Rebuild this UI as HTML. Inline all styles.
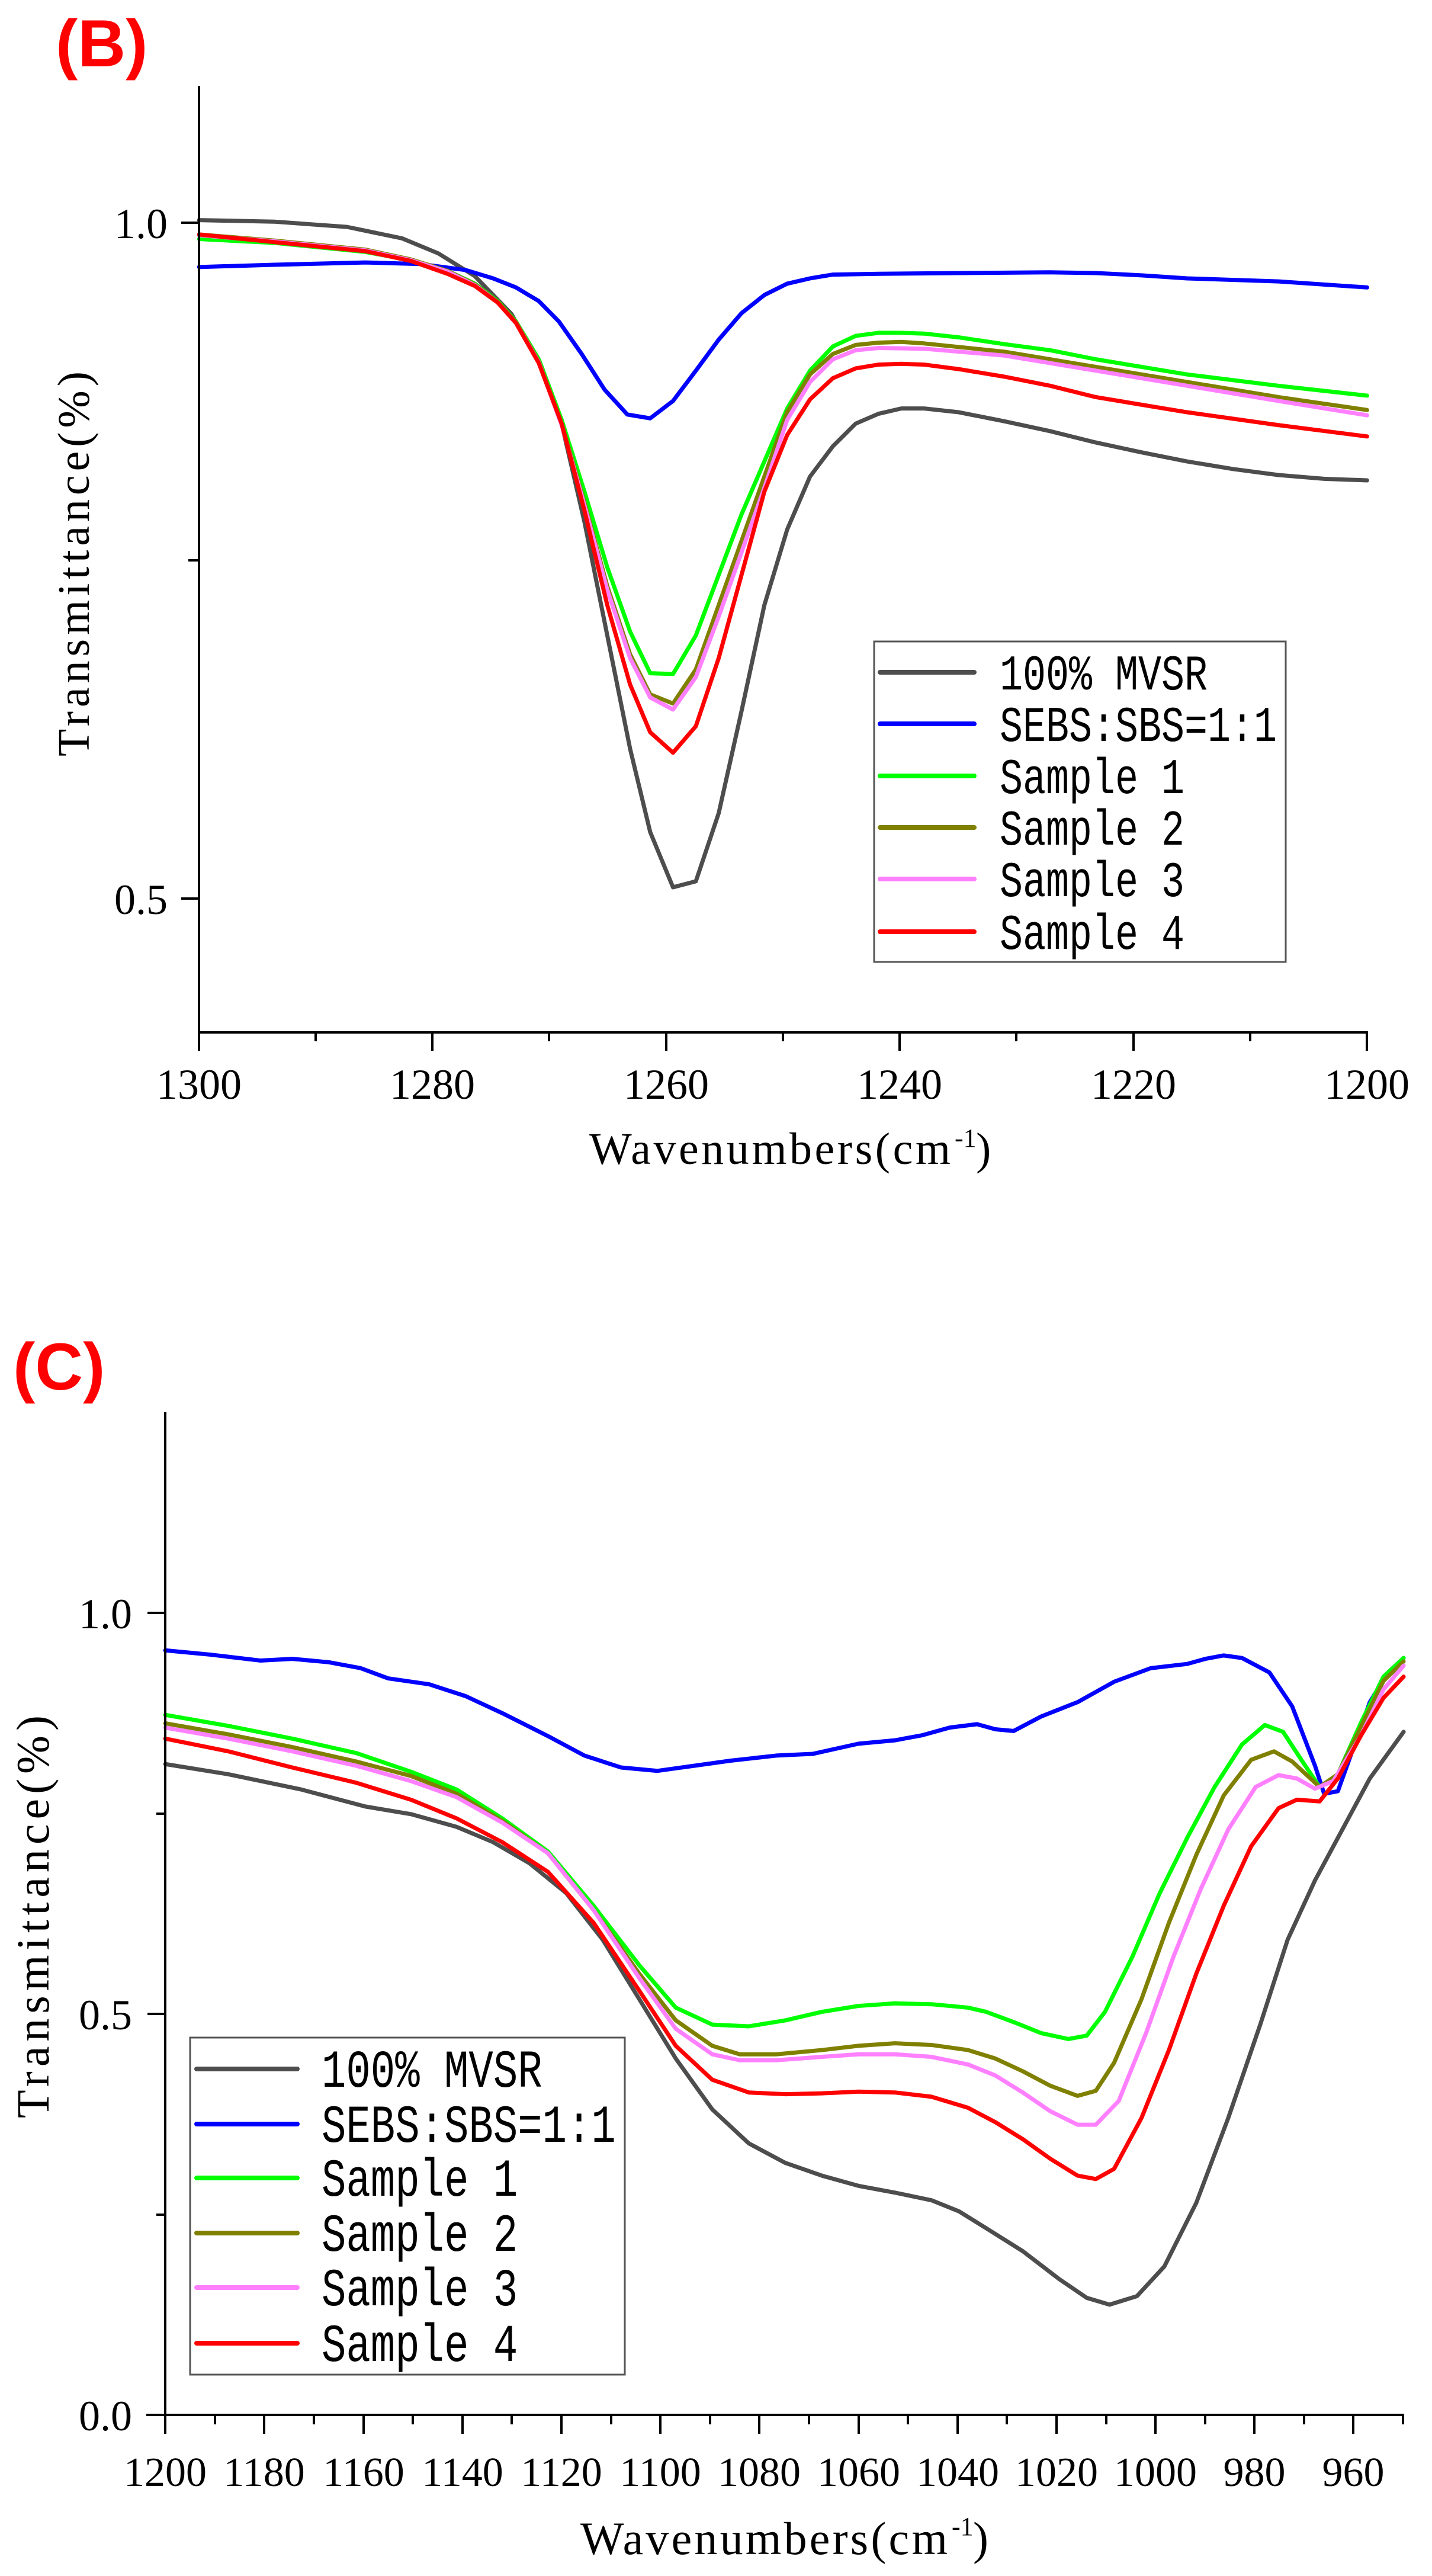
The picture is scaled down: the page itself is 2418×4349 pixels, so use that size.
<!DOCTYPE html>
<html><head><meta charset="utf-8"><style>
html,body{margin:0;padding:0;background:#fff;}
svg{display:block;}
text{font-family:"Liberation Serif",serif;fill:#000;}
.mono{font-family:"Liberation Mono",monospace;}
</style></head><body>
<svg width="2418" height="4349" viewBox="0 0 2418 4349" xmlns="http://www.w3.org/2000/svg" xml:space="preserve">
<rect width="2418" height="4349" fill="#fff"/>

<!-- ============ CHART B ============ -->
<text x="94" y="112" style="font-family:'Liberation Sans',sans-serif;font-weight:bold;font-size:112px;fill:#ff0000">(B)</text>

<g fill="none" stroke-linejoin="round" stroke-linecap="round">
<g transform="scale(1.542,1.2771)">
<polyline vector-effect="non-scaling-stroke" stroke="#4d4d4d" stroke-width="7" points="218,291 300,293 380,300 440,315 480,335 520,365 560,415 590,478 615,560 640,690 665,840 690,990 712,1100 737,1173 762,1165 787,1075 812,940 837,800 862,700 887,630 912,590 937,560 962,547 987,540 1012,540 1050,545 1100,557 1150,570 1200,585 1250,598 1300,610 1350,620 1400,628 1450,633 1497,635"/>
<polyline vector-effect="non-scaling-stroke" stroke="#0000ff" stroke-width="7" points="218,353 300,350 400,347 460,349 510,357 540,368 565,380 590,398 612,425 637,468 662,515 687,548 712,553 737,530 762,490 787,449 812,414 837,390 862,375 887,368 912,363 962,362 1050,361 1150,360 1200,361 1250,364 1300,368 1400,372 1497,380"/>
<polyline vector-effect="non-scaling-stroke" stroke="#00ff00" stroke-width="7" points="218,316 300,321 400,333 450,344 490,358 520,375 545,398 565,425 590,475 615,555 640,650 665,750 690,835 712,890 737,891 762,840 787,760 812,680 837,610 862,540 887,490 912,458 937,444 962,440 987,440 1012,441 1050,446 1100,455 1150,463 1200,475 1300,495 1400,510 1497,523"/>
<polyline vector-effect="non-scaling-stroke" stroke="#808000" stroke-width="7" points="218,310 300,318 400,330 450,343 490,358 520,376 545,399 565,426 590,478 615,560 640,665 665,775 690,865 712,918 737,930 762,885 787,800 812,715 837,630 862,545 887,495 912,468 937,456 962,453 987,452 1012,454 1100,465 1200,485 1300,505 1400,525 1497,542"/>
<polyline vector-effect="non-scaling-stroke" stroke="#ff80ff" stroke-width="7" points="218,311 300,319 400,331 450,344 490,359 520,377 545,400 565,427 590,479 615,562 640,668 665,780 690,870 712,922 737,938 762,895 787,815 812,730 837,645 862,555 887,505 912,475 937,463 962,460 1012,461 1100,470 1200,490 1300,510 1400,530 1497,549"/>
<polyline vector-effect="non-scaling-stroke" stroke="#ff0000" stroke-width="7" points="218,310 300,320 400,332 450,345 490,362 520,378 545,400 565,427 590,480 615,560 640,675 665,800 690,905 712,968 737,995 762,960 787,870 812,760 837,650 862,575 887,528 912,500 937,487 962,482 987,481 1012,482 1050,488 1100,498 1150,510 1200,525 1300,545 1400,562 1497,577"/>
</g>
</g>

<!-- axes B -->
<g stroke="#000" stroke-width="4" fill="none">
<line x1="336" y1="145" x2="336" y2="1745"/>
<line x1="334" y1="1743" x2="2310" y2="1743"/>
<line x1="306" y1="376" x2="336" y2="376"/>
<line x1="306" y1="1517" x2="336" y2="1517"/>
<line x1="318" y1="946" x2="336" y2="946"/>
<line x1="336" y1="1743" x2="336" y2="1774"/>
<line x1="533" y1="1743" x2="533" y2="1758"/>
<line x1="730" y1="1743" x2="730" y2="1774"/>
<line x1="927" y1="1743" x2="927" y2="1758"/>
<line x1="1125" y1="1743" x2="1125" y2="1774"/>
<line x1="1322" y1="1743" x2="1322" y2="1758"/>
<line x1="1519" y1="1743" x2="1519" y2="1774"/>
<line x1="1716" y1="1743" x2="1716" y2="1758"/>
<line x1="1914" y1="1743" x2="1914" y2="1774"/>
<line x1="2111" y1="1743" x2="2111" y2="1758"/>
<line x1="2308" y1="1743" x2="2308" y2="1774"/>
</g>
<g font-size="72" text-anchor="middle">
<text x="336" y="1855">1300</text>
<text x="730" y="1855">1280</text>
<text x="1125" y="1855">1260</text>
<text x="1519" y="1855">1240</text>
<text x="1914" y="1855">1220</text>
<text x="2308" y="1855">1200</text>
</g>
<g font-size="72" text-anchor="end">
<text x="283" y="402">1.0</text>
<text x="283" y="1543">0.5</text>
</g>
<text x="1300" y="1965" font-size="76" text-anchor="middle" textLength="610" lengthAdjust="spacing">Wavenumbers(cm</text>
<text x="1612" y="1936" font-size="44">-1</text>
<text x="1648" y="1965" font-size="76">)</text>
<text transform="translate(150,952) rotate(-90)" font-size="76" text-anchor="middle" textLength="650" lengthAdjust="spacing">Transmittance(%)</text>

<!-- legend B -->
<rect x="1476" y="1083" width="695" height="541" fill="#fff" stroke="#555" stroke-width="3"/>
<g stroke-width="8" stroke-linecap="round">
<line x1="1486" y1="1135" x2="1645" y2="1135" stroke="#4d4d4d"/>
<line x1="1486" y1="1222" x2="1645" y2="1222" stroke="#0000ff"/>
<line x1="1486" y1="1310" x2="1645" y2="1310" stroke="#00ff00"/>
<line x1="1486" y1="1397" x2="1645" y2="1397" stroke="#808000"/>
<line x1="1486" y1="1484" x2="1645" y2="1484" stroke="#ff80ff"/>
<line x1="1486" y1="1573" x2="1645" y2="1573" stroke="#ff0000"/>
</g>
<g class="mono" font-size="65" transform="scale(1,1.3)">
<text class="mono" x="1688" y="895.4">100% MVSR</text>
<text class="mono" x="1688" y="962.3">SEBS:SBS=1:1</text>
<text class="mono" x="1688" y="1030">Sample 1</text>
<text class="mono" x="1688" y="1096.9">Sample 2</text>
<text class="mono" x="1688" y="1163.8">Sample 3</text>
<text class="mono" x="1688" y="1232.3">Sample 4</text>
</g>

<!-- ============ CHART C ============ -->
<text x="22" y="2346" style="font-family:'Liberation Sans',sans-serif;font-weight:bold;font-size:112px;fill:#ff0000">(C)</text>

<g fill="none" stroke-linejoin="round" stroke-linecap="round">
<g transform="translate(0,2100) scale(1.542,1.4327)">
<polyline vector-effect="non-scaling-stroke" stroke="#4d4d4d" stroke-width="7" points="181,613 250,625 330,643 400,663 450,672 500,687 540,705 580,730 620,765 660,820 700,890 740,960 780,1020 820,1060 860,1083 900,1098 940,1110 980,1118 1020,1127 1050,1140 1080,1160 1120,1187 1160,1220 1190,1242 1215,1250 1245,1240 1275,1205 1310,1130 1345,1030 1380,920 1410,820 1440,750 1470,690 1500,630 1537,575"/>
<polyline vector-effect="non-scaling-stroke" stroke="#0000ff" stroke-width="7" points="181,479 230,484 285,491 320,489 360,493 395,500 425,512 470,519 510,533 550,553 600,580 640,603 680,617 720,621 760,615 800,609 850,603 890,601 940,589 980,585 1010,579 1040,570 1070,566 1090,572 1110,574 1140,557 1180,540 1220,516 1260,500 1300,495 1320,489 1340,485 1360,488 1390,505 1415,545 1440,615 1450,648 1465,645 1480,600 1500,540 1520,505 1537,488"/>
<polyline vector-effect="non-scaling-stroke" stroke="#00ff00" stroke-width="7" points="181,555 250,568 320,583 390,600 450,622 500,643 550,677 600,716 650,780 700,850 740,900 780,920 820,922 860,915 900,905 940,898 980,895 1020,896 1060,900 1080,905 1110,917 1140,930 1170,937 1190,933 1210,905 1240,840 1270,765 1300,700 1330,640 1360,590 1385,567 1405,575 1425,608 1445,640 1465,625 1490,565 1515,510 1537,488"/>
<polyline vector-effect="non-scaling-stroke" stroke="#808000" stroke-width="7" points="181,565 250,578 320,593 390,610 450,627 500,648 550,680 600,718 650,785 700,860 740,915 780,945 810,955 850,955 900,950 940,945 980,942 1020,944 1060,950 1090,960 1120,975 1150,992 1180,1004 1200,998 1220,965 1250,890 1280,800 1310,720 1340,650 1370,608 1395,598 1415,610 1435,630 1445,640 1465,625 1490,570 1515,515 1537,492"/>
<polyline vector-effect="non-scaling-stroke" stroke="#ff80ff" stroke-width="7" points="181,570 250,583 320,598 390,615 450,633 500,652 550,682 600,718 650,785 700,865 740,925 780,955 810,962 850,962 900,958 940,955 980,955 1020,958 1060,967 1090,980 1120,1000 1150,1022 1180,1038 1200,1038 1225,1010 1255,930 1285,840 1315,760 1345,690 1375,640 1400,626 1420,630 1440,642 1460,633 1490,580 1515,525 1537,497"/>
<polyline vector-effect="non-scaling-stroke" stroke="#ff0000" stroke-width="7" points="181,583 250,598 320,617 390,635 450,655 500,677 550,705 600,740 650,800 700,880 740,945 780,985 820,1000 860,1002 900,1001 940,999 980,1000 1020,1005 1060,1018 1090,1035 1120,1055 1150,1078 1180,1098 1200,1102 1220,1090 1250,1030 1280,950 1310,860 1340,780 1370,710 1400,665 1420,655 1445,657 1465,630 1490,580 1515,535 1537,510"/>
</g>
</g>

<!-- axes C -->
<g stroke="#000" stroke-width="4" fill="none">
<line x1="279" y1="2384" x2="279" y2="4079"/>
<line x1="247" y1="4077" x2="2371" y2="4077"/>
<line x1="249" y1="2723" x2="279" y2="2723"/>
<line x1="249" y1="3400" x2="279" y2="3400"/>
<line x1="264" y1="3062" x2="279" y2="3062"/>
<line x1="264" y1="3739" x2="279" y2="3739"/>
<line x1="279" y1="4077" x2="279" y2="4109"/>
<line x1="363" y1="4077" x2="363" y2="4093"/>
<line x1="446" y1="4077" x2="446" y2="4109"/>
<line x1="530" y1="4077" x2="530" y2="4093"/>
<line x1="614" y1="4077" x2="614" y2="4109"/>
<line x1="697" y1="4077" x2="697" y2="4093"/>
<line x1="781" y1="4077" x2="781" y2="4109"/>
<line x1="864" y1="4077" x2="864" y2="4093"/>
<line x1="948" y1="4077" x2="948" y2="4109"/>
<line x1="1032" y1="4077" x2="1032" y2="4093"/>
<line x1="1115" y1="4077" x2="1115" y2="4109"/>
<line x1="1199" y1="4077" x2="1199" y2="4093"/>
<line x1="1282" y1="4077" x2="1282" y2="4109"/>
<line x1="1366" y1="4077" x2="1366" y2="4093"/>
<line x1="1450" y1="4077" x2="1450" y2="4109"/>
<line x1="1533" y1="4077" x2="1533" y2="4093"/>
<line x1="1617" y1="4077" x2="1617" y2="4109"/>
<line x1="1700" y1="4077" x2="1700" y2="4093"/>
<line x1="1784" y1="4077" x2="1784" y2="4109"/>
<line x1="1868" y1="4077" x2="1868" y2="4093"/>
<line x1="1951" y1="4077" x2="1951" y2="4109"/>
<line x1="2035" y1="4077" x2="2035" y2="4093"/>
<line x1="2118" y1="4077" x2="2118" y2="4109"/>
<line x1="2202" y1="4077" x2="2202" y2="4093"/>
<line x1="2285" y1="4077" x2="2285" y2="4109"/>
<line x1="2369" y1="4077" x2="2369" y2="4093"/>
</g>
<g font-size="70" text-anchor="middle">
<text x="279" y="4197">1200</text>
<text x="446" y="4197">1180</text>
<text x="614" y="4197">1160</text>
<text x="781" y="4197">1140</text>
<text x="948" y="4197">1120</text>
<text x="1115" y="4197">1100</text>
<text x="1282" y="4197">1080</text>
<text x="1450" y="4197">1060</text>
<text x="1617" y="4197">1040</text>
<text x="1784" y="4197">1020</text>
<text x="1951" y="4197">1000</text>
<text x="2118" y="4197">980</text>
<text x="2285" y="4197">960</text>
</g>
<g font-size="72" text-anchor="end">
<text x="223" y="2749">1.0</text>
<text x="223" y="3426">0.5</text>
<text x="223" y="4103">0.0</text>
</g>
<text x="1290" y="4312" font-size="78" text-anchor="middle" textLength="620" lengthAdjust="spacing">Wavenumbers(cm</text>
<text x="1607" y="4280" font-size="44">-1</text>
<text x="1643" y="4312" font-size="78">)</text>
<text transform="translate(82,3236) rotate(-90)" font-size="78" text-anchor="middle" textLength="680" lengthAdjust="spacing">Transmittance(%)</text>

<!-- legend C -->
<rect x="321" y="3440" width="734" height="569" fill="#fff" stroke="#555" stroke-width="3"/>
<g stroke-width="8" stroke-linecap="round">
<line x1="332" y1="3493" x2="502" y2="3493" stroke="#4d4d4d"/>
<line x1="332" y1="3586" x2="502" y2="3586" stroke="#0000ff"/>
<line x1="332" y1="3677" x2="502" y2="3677" stroke="#00ff00"/>
<line x1="332" y1="3770" x2="502" y2="3770" stroke="#808000"/>
<line x1="332" y1="3862" x2="502" y2="3862" stroke="#ff80ff"/>
<line x1="332" y1="3956" x2="502" y2="3956" stroke="#ff0000"/>
</g>
<g font-size="69" transform="scale(1,1.3)">
<text class="mono" x="543" y="2710">100% MVSR</text>
<text class="mono" x="543" y="2781.5">SEBS:SBS=1:1</text>
<text class="mono" x="543" y="2851.5">Sample 1</text>
<text class="mono" x="543" y="2923.1">Sample 2</text>
<text class="mono" x="543" y="2993.8">Sample 3</text>
<text class="mono" x="543" y="3066.2">Sample 4</text>
</g>
</svg>
</body></html>
